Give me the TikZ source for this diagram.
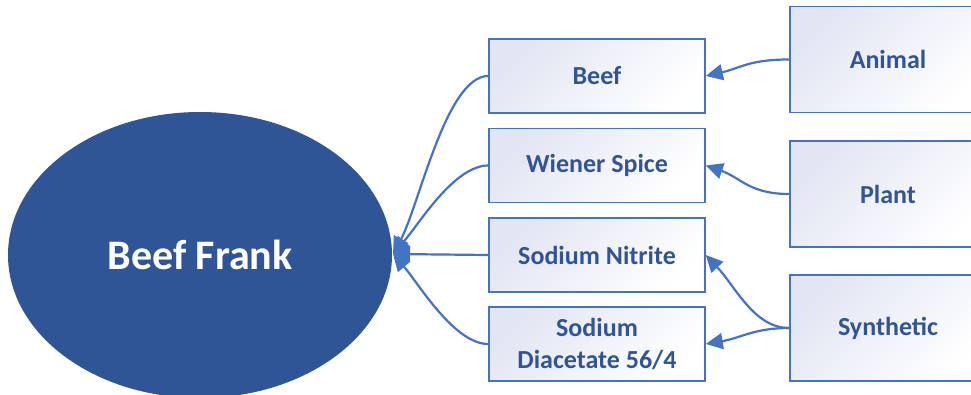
\documentclass[tikz,border=0pt]{standalone}
\usepackage{fontspec}
\setmainfont{Carlito}
\usetikzlibrary{shapes.geometric,arrows.meta}
\definecolor{ellfill}{RGB}{47,85,151}
\definecolor{lineblue}{RGB}{68,114,196}
\definecolor{txtblue}{RGB}{48,84,150}
\definecolor{lav}{RGB}{226,229,243}
\tikzset{
  ibox/.style={draw=lineblue, line width=1.6pt, top color=lav, bottom color=white, shading angle=45,
    inner sep=2pt, text=txtblue, align=center,
    font=\bfseries\fontsize{26}{32}\selectfont},
  midbox/.style={ibox, minimum width=216pt, minimum height=74pt},
  srcbox/.style={ibox, minimum width=196pt, minimum height=106pt},
  conn/.style={draw=lineblue, line width=2.2pt, arrows={-Triangle[length=17pt,width=16pt]}},
}
\begin{document}
\begin{tikzpicture}[x=1pt,y=-1pt]
\useasboundingbox (0,0) rectangle (971,395);
\begin{scope}
\clip (0,0) rectangle (971,395);
\node[ellipse, fill=ellfill, minimum width=384pt, minimum height=286pt, inner sep=0pt,
  text=white, font=\bfseries\fontsize{42}{48}\selectfont] (bf) at (200,255) {Beef Frank};
\node[midbox] (beef) at (597,76) {Beef};
\node[midbox] (wien) at (597,165.5) {Wiener Spice};
\node[midbox] (nitr) at (597,255) {Sodium Nitrite};
\node[midbox] (diac) at (597,344) {Sodium\\Diacetate 56/4};
\node[srcbox] (anim) at (888,59.5) {Animal};
\node[srcbox] (plant) at (888,194) {Plant};
\node[srcbox] (syn) at (888,328) {Synthetic};
\coordinate (tip) at (393,254);
\draw[conn] (beef.west) .. controls +(-42,0) and +(26,-48) .. (tip);
\draw[conn] (wien.west) .. controls +(-34,0) and +(26,-30) .. (tip);
\draw[conn] (nitr.west) -- (tip);
\draw[conn] (diac.west) .. controls +(-34,0) and +(26,30) .. (tip);
\draw[conn] (anim.west) .. controls +(-40,0) and +(35,-8) .. (beef.east);
\draw[conn] (plant.west) .. controls +(-40,0) and +(35,12) .. (wien.east);
\draw[conn] (syn.west) .. controls +(-35,0) and +(30,32) .. (nitr.east);
\draw[conn] (syn.west) .. controls +(-35,0) and +(35,-6) .. (diac.east);
\end{scope}
\end{tikzpicture}
\end{document}
